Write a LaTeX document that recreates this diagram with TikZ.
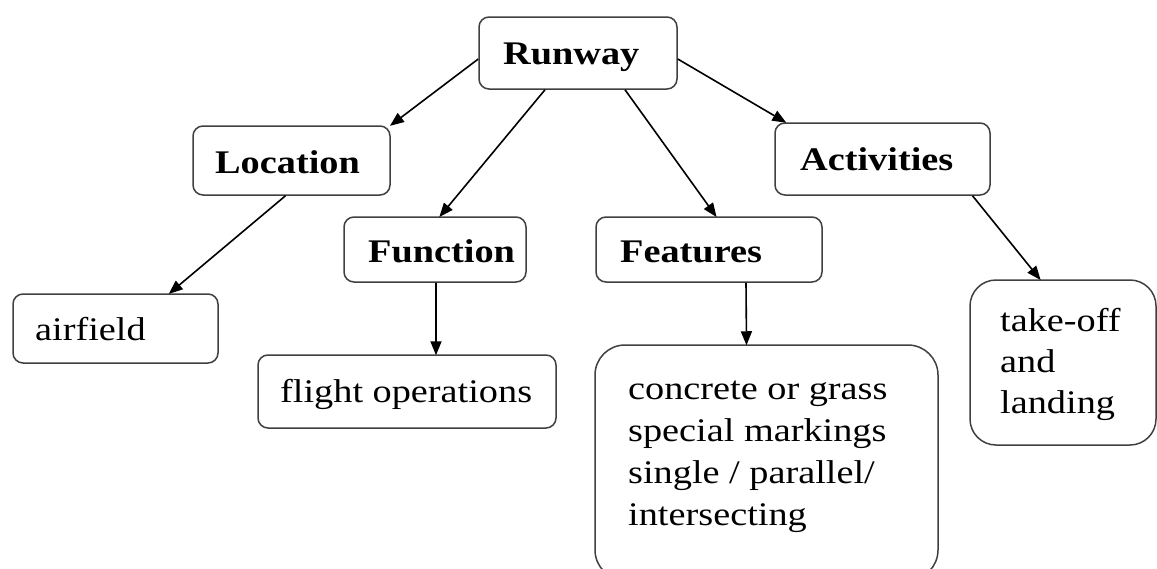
\documentclass[tikz,border=0pt]{standalone}
\usepackage{fontspec}
\setmainfont{Liberation Serif}[FakeStretch=1.16]
\usetikzlibrary{arrows.meta}
\tikzset{
  box/.style={draw=black!75, line width=1.5pt, rounded corners=10pt, fill=white, inner sep=0pt},
  bigbox/.style={box, rounded corners=30pt},
  lbl/.style={anchor=base west, inner sep=0pt, font=\fontsize{33}{42}\selectfont},
  head/.style={lbl, font=\fontsize{33}{42}\selectfont\bfseries},
  conn/.style={line width=1.6pt, -{Triangle[length=14pt,width=11pt]}, shorten >=-1pt}
}
\begin{document}
\begin{tikzpicture}[x=1pt,y=-1pt]
\useasboundingbox (0,0) rectangle (1157,568);
% boxes
\node[box, minimum width=198pt, minimum height=72pt] (runway) at (578,53) {};
\node[box, minimum width=197pt, minimum height=69pt] (location) at (291.5,160.5) {};
\node[box, minimum width=215pt, minimum height=72pt] (activities) at (882.5,159) {};
\node[box, minimum width=182pt, minimum height=65pt] (function) at (435,249.5) {};
\node[box, minimum width=226pt, minimum height=65pt] (features) at (709,249.5) {};
\node[box, minimum width=205pt, minimum height=69pt] (airfield) at (115.5,328.5) {};
\node[box, minimum width=298pt, minimum height=73pt] (flight) at (407,391.5) {};
\node[bigbox, minimum width=343pt, minimum height=235pt] (featbox) at (766.5,462.5) {};
\node[bigbox, rounded corners=26pt, minimum width=186pt, minimum height=165pt] (takeoff) at (1063,362.5) {};
% texts
\node[head] (trunway) at (503,64) {Runway};
\node[head] (tlocation) at (215,173) {Location};
\node[head] (tactivities) at (800,170) {Activities};
\node[head] (tfunction) at (368,262) {Function};
\node[head] (tfeatures) at (620,262) {Features};
\node[lbl] (tairfield) at (35,340) {airfield};
\node[lbl] (tflight) at (280,402) {flight operations};
\node[lbl, align=left] (tfeat) at (628,525) {concrete or grass\\special markings\\single / parallel/\\intersecting};
\node[lbl, align=left, font=\fontsize{33}{41}\selectfont] (ttake) at (1000,413) {take-off\\and\\landing};
% connectors
\draw[conn] (runway.west |- 0,59) -- (location.north east);
\draw[conn] ([xshift=-33pt]runway.south) -- ([xshift=5pt]function.north);
\draw[conn] ([xshift=47pt]runway.south) -- ([xshift=7pt]features.north);
\draw[conn] (runway.east |- 0,59) -- ([xshift=-97pt]activities.north);
\draw[conn] ([xshift=-6pt]location.south) -- ([xshift=54pt]airfield.north);
\draw[conn] ([xshift=1pt]function.south) -- ([xshift=29pt]flight.north);
\draw[conn] ([xshift=37pt]features.south) -- ([xshift=-20pt]featbox.north);
\draw[conn] ([xshift=90pt]activities.south) -- ([xshift=-23pt]takeoff.north);
\end{tikzpicture}
\end{document}
